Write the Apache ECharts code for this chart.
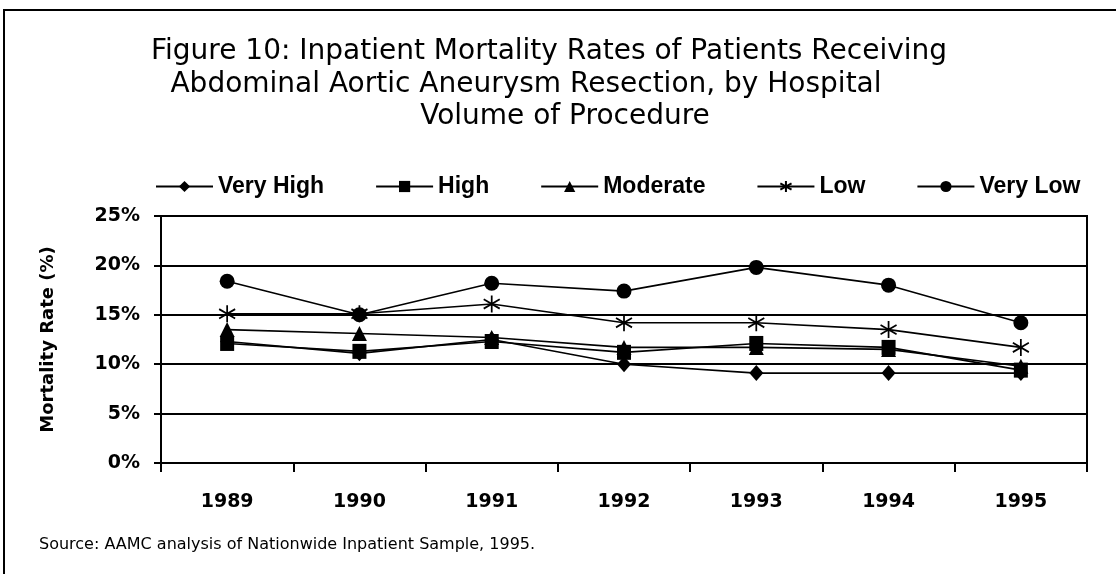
<!DOCTYPE html>
<html>
<head>
<meta charset="utf-8">
<script src="https://cdn.jsdelivr.net/npm/echarts@6/dist/echarts.min.js"></script>
<style>
  html, body { margin: 0; padding: 0; background: #fff; }
  #chart { width: 1116px; height: 574px; }
</style>
</head>
<body>
<div id="chart"></div>
<script>
// mortality rates by hospital volume, 1989-1995
const years = ['1989', '1990', '1991', '1992', '1993', '1994', '1995'];
const veryHigh = [12.3, 11.1, 12.5, 10.0, 9.1, 9.1, 9.1];
const high = [12.1, 11.3, 12.3, 11.2, 12.1, 11.7, 9.4];
const moderate = [13.5, 13.1, 12.7, 11.7, 11.7, 11.5, 9.8];
const low = [15.1, 15.1, 16.1, 14.2, 14.2, 13.5, 11.7];
const veryLow = [18.4, 15.0, 18.2, 17.4, 19.8, 18.0, 14.2];

const titleLines = [
  'Figure 10: Inpatient Mortality Rates of Patients Receiving',
  'Abdominal Aortic Aneurysm Resection, by Hospital',
  'Volume of Procedure'
];

const starPath = 'path://M10,0L10,20M1,4.5L19,15.5M1,15.5L19,4.5';

function makeSeries(name, data, symbol, size, extra) {
  return Object.assign({
    name: name,
    type: 'line',
    data: data,
    symbol: symbol,
    symbolSize: size,
    lineStyle: {color: '#000', width: 1.6},
    itemStyle: {color: '#000'},
    emphasis: {disabled: true},
  }, extra || {});
}

function renderChart() {
  const chart = echarts.init(document.getElementById('chart'));
  const option = {
    animation: false,
    textStyle: {fontFamily: 'DejaVu Sans', color: '#000'},
    title: [
      {text: titleLines[0], left: 549, top: 38},
      {text: titleLines[1], left: 526, top: 71},
      {text: titleLines[2], left: 565, top: 103},
    ].map(function(t) {
      return {
        text: t.text, left: t.left, top: t.top, textAlign: 'center', padding: 0,
        textStyle: {fontFamily: 'DejaVu Sans', fontSize: 28, fontWeight: 'normal', color: '#000'}
      };
    }),
    graphic: [{
      type: 'rect',
      shape: {x: 4, y: 10, width: 1200, height: 700},
      style: {fill: 'none', stroke: '#000', lineWidth: 2},
      silent: true,
    }, {
      type: 'text',
      left: 39, top: 537,
      style: {
        text: 'Source: AAMC analysis of Nationwide Inpatient Sample, 1995.',
        font: '16px "DejaVu Sans"', fill: '#000'
      }
    }],
    legend: {
      left: 155, top: 175, padding: 0,
      itemWidth: 57, itemHeight: 14, itemGap: 51,
      textStyle: {fontFamily: 'Liberation Sans', fontWeight: 'bold', fontSize: 23, color: '#000'},
      data: ['Very High', 'High', 'Moderate', 'Low', 'Very Low'],
    },
    grid: {
      left: 161, right: 29, top: 216, bottom: 111,
      show: true, borderColor: '#000', borderWidth: 2, backgroundColor: 'transparent',
    },
    xAxis: {
      type: 'category',
      data: years,
      boundaryGap: true,
      axisLine: {lineStyle: {color: '#000', width: 2}},
      axisTick: {show: true, length: 9, lineStyle: {color: '#000', width: 2}},
      axisLabel: {margin: 30, fontFamily: 'DejaVu Sans', fontWeight: 'bold', fontSize: 19, color: '#000'},
    },
    yAxis: {
      type: 'value',
      min: 0, max: 25, interval: 5,
      name: 'Mortality Rate (%)',
      nameLocation: 'middle',
      nameGap: 104,
      nameTextStyle: {fontFamily: 'DejaVu Sans', fontWeight: 'bold', fontSize: 18, color: '#000'},
      axisLine: {show: true, lineStyle: {color: '#000', width: 2}},
      axisTick: {show: true, length: 7, lineStyle: {color: '#000', width: 2}},
      axisLabel: {
        margin: 21, formatter: '{value}%',
        fontFamily: 'DejaVu Sans', fontWeight: 'bold', fontSize: 19, color: '#000'
      },
      splitLine: {lineStyle: {color: '#000', width: 2}},
    },
    series: [
      makeSeries('Very High', veryHigh, 'diamond', [14, 16]),
      makeSeries('High', high, 'rect', [14, 15]),
      makeSeries('Moderate', moderate, 'triangle', [15, 15]),
      makeSeries('Low', low, starPath, [16, 17], {
        itemStyle: {color: '#000', borderColor: '#000', borderWidth: 1.8}
      }),
      makeSeries('Very Low', veryLow, 'circle', 15),
    ]
  };
  chart.setOption(option, true);
}

renderChart();
</script>
</body>
</html>
